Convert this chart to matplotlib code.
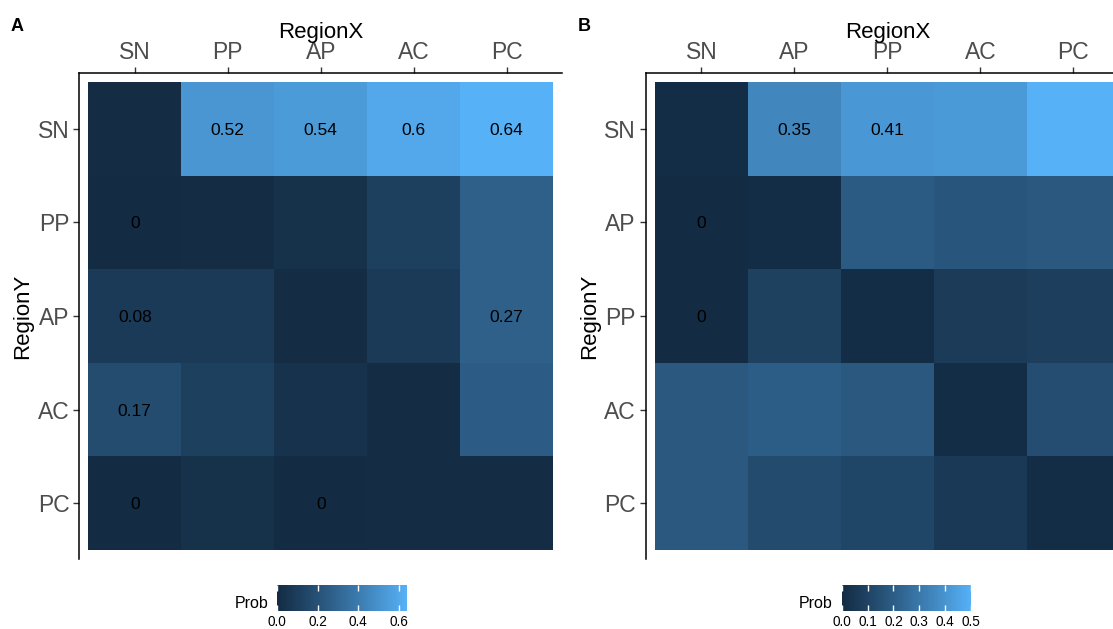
import matplotlib
matplotlib.use("Agg")
import matplotlib.pyplot as plt
import numpy as np
from matplotlib.colors import ListedColormap, Normalize, to_rgb

plt.rcParams["font.family"] = ["Liberation Sans", "DejaVu Sans"]

# Panel A
regions_a = ["SN", "PP", "AP", "AC", "PC"]
prob_a = [
    [0.01, 0.52, 0.54, 0.60, 0.64],
    [0.00, 0.01, 0.03, 0.11, 0.27],
    [0.08, 0.08, 0.01, 0.08, 0.27],
    [0.17, 0.11, 0.04, 0.01, 0.25],
    [0.00, 0.03, 0.00, 0.01, 0.01],
]
shown_a = [
    [0, 1, 1, 1, 1],
    [1, 0, 0, 0, 0],
    [1, 0, 0, 0, 1],
    [1, 0, 0, 0, 0],
    [1, 0, 1, 0, 0],
]
ticks_a = [0.0, 0.2, 0.4, 0.6]

# Panel B
regions_b = ["SN", "AP", "PP", "AC", "PC"]
prob_b = [
    [0.01, 0.35, 0.41, 0.42, 0.50],
    [0.00, 0.01, 0.19, 0.17, 0.18],
    [0.00, 0.09, 0.01, 0.07, 0.08],
    [0.18, 0.20, 0.18, 0.01, 0.14],
    [0.18, 0.13, 0.11, 0.06, 0.01],
]
shown_b = [
    [0, 1, 1, 0, 0],
    [1, 0, 0, 0, 0],
    [1, 0, 0, 0, 0],
    [0, 0, 0, 0, 0],
    [0, 0, 0, 0, 0],
]
ticks_b = [0.0, 0.1, 0.2, 0.3, 0.4, 0.5]


def srgb_to_lab(c):
    c = np.asarray(c, dtype=float)
    lin = np.where(c <= 0.04045, c / 12.92, ((c + 0.055) / 1.055) ** 2.4)
    m = np.array([[0.4124, 0.3576, 0.1805],
                  [0.2126, 0.7152, 0.0722],
                  [0.0193, 0.1192, 0.9505]])
    xyz = m @ lin / np.array([0.95047, 1.0, 1.08883])
    f = np.where(xyz > 0.008856, np.cbrt(xyz), 7.787 * xyz + 16 / 116)
    return np.array([116 * f[1] - 16, 500 * (f[0] - f[1]), 200 * (f[1] - f[2])])


def lab_to_srgb(lab):
    fy = (lab[0] + 16) / 116
    fx = fy + lab[1] / 500
    fz = fy - lab[2] / 200
    f = np.array([fx, fy, fz])
    xyz = np.where(f ** 3 > 0.008856, f ** 3, (f - 16 / 116) / 7.787)
    xyz = xyz * np.array([0.95047, 1.0, 1.08883])
    m = np.array([[3.2406, -1.5372, -0.4986],
                  [-0.9689, 1.8758, 0.0415],
                  [0.0557, -0.2040, 1.0570]])
    lin = np.clip(m @ xyz, 0, 1)
    c = np.where(lin <= 0.0031308, 12.92 * lin, 1.055 * lin ** (1 / 2.4) - 0.055)
    return np.clip(c, 0, 1)


# ggplot2 default continuous gradient (Lab interpolation)
low = srgb_to_lab(to_rgb("#132B43"))
high = srgb_to_lab(to_rgb("#56B1F7"))
cmap = ListedColormap([lab_to_srgb(low + t * (high - low)) for t in np.linspace(0, 1, 256)])

fig = plt.figure(figsize=(11.13, 6.29), dpi=100)


def draw_panel(left, regions, prob, shown, ticks, cbar_left, letter, letter_x):
    data = np.array(prob)
    norm = Normalize(vmin=data.min(), vmax=data.max())
    ax = fig.add_axes([left, 0.1107, 0.4344, 0.7739])
    n = len(regions)
    edges = np.arange(n + 1) + 0.5
    ax.pcolormesh(edges, edges, data, cmap=cmap, norm=norm)
    ax.set_xlim(0.4, n + 0.6)
    ax.set_ylim(n + 0.6, 0.4)
    for i in range(n):
        for j in range(n):
            if shown[i][j]:
                ax.text(j + 1, i + 1, f"{data[i, j]:g}", ha="center",
                        va="center_baseline", fontsize=12.5, color="black")
    ax.xaxis.tick_top()
    ax.xaxis.set_label_position("top")
    ax.set_xticks(range(1, n + 1))
    ax.set_xticklabels(regions)
    ax.set_yticks(range(1, n + 1))
    ax.set_yticklabels(regions)
    ax.tick_params(labelsize=16.5, labelcolor="#4D4D4D", length=4, width=1,
                   color="#333333", pad=2)
    ax.tick_params(axis="y", pad=3)
    ax.set_xlabel("RegionX", fontsize=16, labelpad=2)
    ax.set_ylabel("RegionY", fontsize=16, labelpad=3)
    for side in ["right", "bottom"]:
        ax.spines[side].set_visible(False)
    for side in ["left", "top"]:
        ax.spines[side].set_linewidth(1.1)

    cax = fig.add_axes([cbar_left, 0.0286, 0.1163, 0.0413])
    cb = fig.colorbar(plt.cm.ScalarMappable(norm=norm, cmap=cmap), cax=cax,
                      orientation="horizontal", ticks=ticks)
    cb.outline.set_visible(False)
    cb.set_ticklabels([f"{t:.1f}" for t in ticks])
    cax.tick_params(axis="x", direction="in", color="white", length=4, width=1,
                    top=True, bottom=True, labelsize=9.8, pad=3, labelcolor="black")
    cax.text(-0.07, 0.0, "Prob", transform=cax.transAxes, ha="right", va="bottom",
             fontsize=11.5)

    fig.text(letter_x, 0.958, letter, fontsize=13, fontweight="bold", ha="left", va="center")


draw_panel(0.07098, regions_a, prob_a, shown_a, ticks_a, 0.2491, "A", 0.0099)
draw_panel(0.5801, regions_b, prob_b, shown_b, ticks_b, 0.7562, "B", 0.5194)

fig.savefig("out.png", dpi=100)
